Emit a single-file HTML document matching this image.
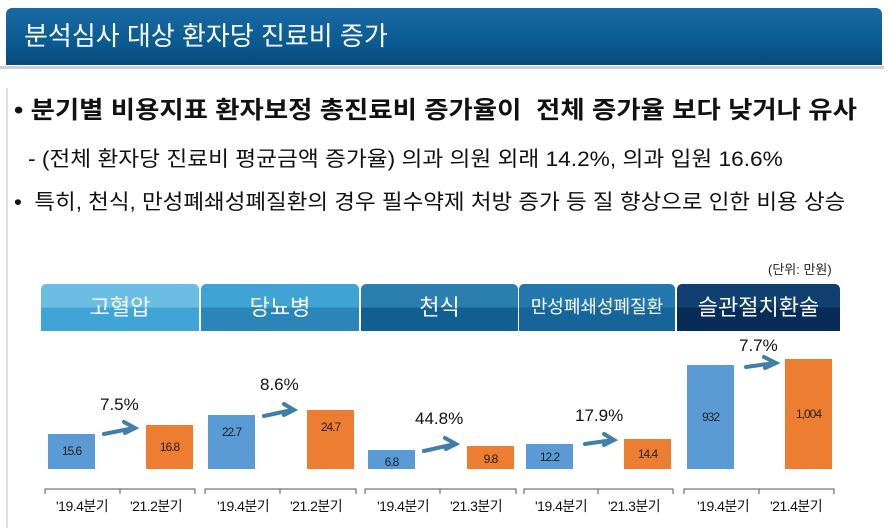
<!DOCTYPE html>
<html><head><meta charset="utf-8"><style>
body{margin:0;width:889px;height:528px;background:#fff;position:relative;overflow:hidden;font-family:"Liberation Sans","Noto Sans CJK KR",sans-serif;}
.a{position:absolute;white-space:nowrap;}
.hdr{left:6px;top:8px;width:876px;height:57px;border-radius:6px 6px 0 0;background:linear-gradient(#1a6aa3,#0b5b93 60%,#084a7c);color:#fff;font-size:26px;line-height:57px;padding-left:18px;box-sizing:border-box;}
.cat{top:284px;height:47px;color:#fff;text-align:center;line-height:47px;font-size:22px;border-radius:5px 5px 0 0;}
.bar{position:absolute;bottom:59px;width:47px;font-size:12px;color:#222;text-align:center;letter-spacing:-1px;}
.b{background:#5b9bd5;}.o{background:#ed7d31;}
.pct{font-size:17px;color:#111;}
.xl{font-size:14px;color:#111;top:496px;letter-spacing:-0.5px;}
</style></head><body>
<div class="a hdr">분석심사 대상 환자당 진료비 증가</div>
<div class="a" style="left:0;top:66px;width:884px;height:3px;background:#d0d0d0"></div>
<div class="a" style="left:6px;top:88px;width:2px;height:440px;background:#e0e0e0"></div>
<div class="a" style="left:14px;top:90px;font-size:24px;font-weight:bold;color:#111;transform-origin:0 0;transform:scaleX(1.1)">• 분기별 비용지표 환자보정 총진료비 증가율이 &nbsp;전체 증가율 보다 낮거나 유사</div>
<div class="a" style="left:28px;top:143px;font-size:21px;color:#111;transform-origin:0 0;transform:scaleX(1.08)">- (전체 환자당 진료비 평균금액 증가율) 의과 의원 외래 14.2%, 의과 입원 16.6%</div>
<div class="a" style="left:14px;top:186px;font-size:21px;color:#111;transform-origin:0 0;transform:scaleX(1.07)">• &nbsp;특히, 천식, 만성폐쇄성폐질환의 경우 필수약제 처방 증가 등 질 향상으로 인한 비용 상승</div>
<div class="a" style="left:768px;top:259px;font-size:13px;color:#222">(단위: 만원)</div>
<div class="a cat" style="left:41px;width:158px;background:linear-gradient(#6cbde4 0 50%,#3fa5d6 50%)">고혈압</div>
<div class="a cat" style="left:201px;width:158px;background:linear-gradient(#3fa3d5 0 50%,#2a86b8 50%)">당뇨병</div>
<div class="a cat" style="left:361px;width:157px;background:linear-gradient(#2a7fae 0 50%,#125f92 50%)">천식</div>
<div class="a cat" style="left:519px;width:156px;background:linear-gradient(#2278ad 0 50%,#15649a 50%);font-size:18px">만성폐쇄성폐질환</div>
<div class="a cat" style="left:677px;width:163px;background:linear-gradient(#113f70 0 50%,#072c58 50%)">슬관절치환술</div>
<div class="bar b" style="left:48px;height:35px;line-height:35px">15.6</div>
<div class="bar o" style="left:146px;height:44px;line-height:44px">16.8</div>
<div class="bar b" style="left:208px;height:54px;line-height:34px">22.7</div>
<div class="bar o" style="left:307px;height:59px;line-height:34px">24.7</div>
<div class="bar b" style="left:368px;height:19px;line-height:24px">6.8</div>
<div class="bar o" style="left:467px;height:23px;line-height:26px">9.8</div>
<div class="bar b" style="left:526px;height:25px;line-height:26px">12.2</div>
<div class="bar o" style="left:624px;height:30px;line-height:30px">14.4</div>
<div class="bar b" style="left:687px;height:104px;line-height:104px">932</div>
<div class="bar o" style="left:785px;height:110px;line-height:110px">1,004</div>
<div class="a pct" style="left:100px;top:395px">7.5%</div>
<div class="a pct" style="left:260px;top:375px">8.6%</div>
<div class="a pct" style="left:415px;top:409px">44.8%</div>
<div class="a pct" style="left:575px;top:406px">17.9%</div>
<div class="a pct" style="left:739px;top:336px">7.7%</div>
<svg class="a" style="left:0;top:0" width="889" height="528">
<g stroke="#3f7fa8" stroke-width="4" fill="none" stroke-linecap="round">
<path d="M104 434 L134 428 M124 422 L135 428 L125 433"/>
<path d="M264 416 L292 410 M284 404 L294 410 L284 415"/>
<path d="M424 451 L455 444 M445 438 L456 444 L446 449"/>
<path d="M585 444 L613 440 M604 434 L614 440 L604 445"/>
<path d="M746 367 L775 363 M764 357 L776 363 L765 368"/>
</g>
<g stroke="#555" stroke-width="1" fill="none">
<path d="M45 494 V489 H195 V494 M120 489 V494"/>
<path d="M205 494 V489 H356 V494 M280 489 V494"/>
<path d="M365 494 V489 H516 V494 M440 489 V494"/>
<path d="M524 494 V489 H673 V494 M598 489 V494"/>
<path d="M684 494 V489 H834 V494 M759 489 V494"/>
</g></svg>
<div class="a xl" style="left:56px">'19.4분기</div>
<div class="a xl" style="left:130px">'21.2분기</div>
<div class="a xl" style="left:217px">'19.4분기</div>
<div class="a xl" style="left:290px">'21.2분기</div>
<div class="a xl" style="left:377px">'19.4분기</div>
<div class="a xl" style="left:450px">'21.3분기</div>
<div class="a xl" style="left:535px">'19.4분기</div>
<div class="a xl" style="left:608px">'21.3분기</div>
<div class="a xl" style="left:697px">'19.4분기</div>
<div class="a xl" style="left:770px">'21.4분기</div>
</body></html>
